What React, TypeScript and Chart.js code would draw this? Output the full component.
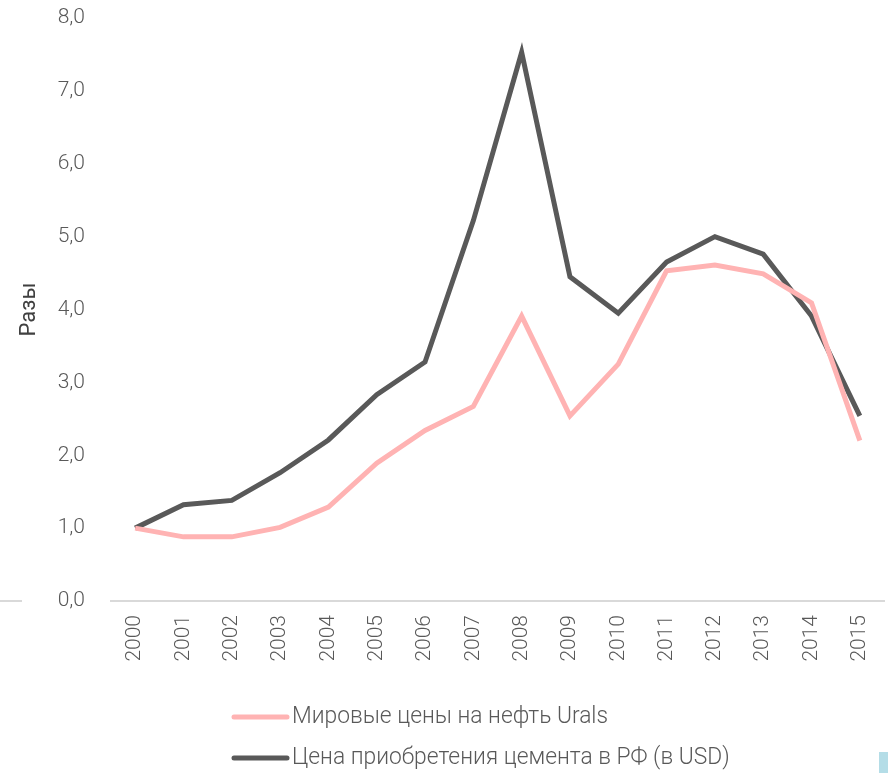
import React, { useEffect, useRef } from "react";
import { Chart, registerables } from "chart.js";

Chart.register(...registerables);

const years = ["2000","2001","2002","2003","2004","2005","2006","2007","2008","2009","2010","2011","2012","2013","2014","2015"];
const oilLabel = "Мировые цены на нефть Urals";
const cementLabel = "Цена приобретения цемента в РФ (в USD)";
const oilValues = [1.0, 0.88, 0.88, 1.01, 1.29, 1.89, 2.34, 2.67, 3.91, 2.54, 3.25, 4.53, 4.61, 4.49, 4.09, 2.2];
const cementValues = [1.0, 1.32, 1.38, 1.76, 2.21, 2.83, 3.28, 5.22, 7.53, 4.45, 3.95, 4.65, 5.0, 4.76, 3.91, 2.54];
const yTitle = "Разы";

const FONT = "Roboto";
const TEXT = "#595959";

const legendPlugin = {
  id: "stackedLegend",
  afterDraw(chart: any) {
    const ctx = chart.ctx;
    const x0 = 232;
    const rows = [717, 758];
    ctx.save();
    chart.data.datasets.forEach((ds: any, i: number) => {
      const y = rows[i];
      ctx.strokeStyle = ds.borderColor;
      ctx.lineWidth = 5;
      ctx.lineCap = "round";
      ctx.beginPath();
      ctx.moveTo(x0 + 2, y);
      ctx.lineTo(x0 + 55, y);
      ctx.stroke();
      ctx.fillStyle = TEXT;
      ctx.font = `300 24px ${FONT}`;
      ctx.textBaseline = "middle";
      ctx.textAlign = "left";
      ctx.save();
      ctx.translate(x0 + 60, y);
      ctx.scale(0.95, 1);
      ctx.fillText(ds.label, 0, 0);
      ctx.restore();
    });
    ctx.restore();
  },
};

export default function App() {
  const ref = useRef<HTMLCanvasElement>(null);
  useEffect(() => {
    if (!ref.current) return;
    const chart = new Chart(ref.current, {
      type: "line",
      data: {
        labels: years,
        datasets: [
          {
            label: oilLabel,
            data: oilValues,
            borderColor: "#ffb3b3",
            backgroundColor: "#ffb3b3",
            borderWidth: 5,
            pointRadius: 0,
            tension: 0,
          },
          {
            label: cementLabel,
            data: cementValues,
            borderColor: "#595959",
            backgroundColor: "#595959",
            borderWidth: 5,
            pointRadius: 0,
            tension: 0,
          },
        ],
      },
      options: {
        animation: false,
        responsive: false,
        maintainAspectRatio: false,
        layout: { padding: { top: 18, right: 4, left: 0, bottom: 0 } },
        plugins: {
          legend: { display: false },
          tooltip: { enabled: false },
        },
        scales: {
          x: {
            offset: true,
            grid: { display: false, drawTicks: false },
            border: { display: true, color: "#d9d9d9", width: 2 },
            ticks: {
              color: TEXT,
              font: { family: FONT, size: 21, weight: "300" },
              maxRotation: 90,
              minRotation: 90,
              padding: 14,
              autoSkip: false,
            },
            afterFit(scale: any) {
              scale.height = 172;
              scale.paddingLeft = 0;
              scale.paddingRight = 0;
              scale.paddingTop = 0;
              scale.paddingBottom = 0;
            },
          },
          y: {
            min: 0,
            max: 8,
            grid: { display: false, drawTicks: false },
            border: { display: false },
            ticks: {
              stepSize: 1,
              color: TEXT,
              font: { family: FONT, size: 21, weight: "300" },
              padding: 26,
              callback: (v: any) => Number(v).toFixed(1).replace(".", ","),
            },
            title: {
              display: true,
              text: yTitle,
              color: "#404040",
              font: { family: FONT, size: 22, weight: "400" },
              padding: { top: 16, bottom: 0 },
            },
            afterFit(scale: any) {
              scale.width = 111;
              scale.paddingTop = 0;
              scale.paddingBottom = 0;
              scale.paddingLeft = 0;
              scale.paddingRight = 0;
            },
          },
        },
      },
      plugins: [legendPlugin],
    });
    return () => chart.destroy();
  }, []);
  return (
    <div style={{ position: "absolute", left: 0, top: 0, width: 888, height: 773, background: "#fff" }}>
      <canvas ref={ref} width={888} height={773} style={{ display: "block" }} />
      <div style={{ position: "absolute", left: 0, top: 600, width: 22, height: 2, background: "#d9d9d9" }} />
      <div style={{ position: "absolute", left: 879, top: 752, width: 9, height: 21, background: "#b4dde7" }} />
    </div>
  );
}
